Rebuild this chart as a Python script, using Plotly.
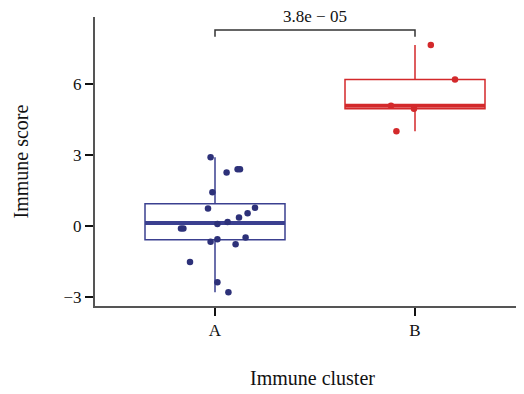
import numpy as np
import plotly.graph_objects as go

# ---- data ----
categories = ["A", "B"]
cluster_a = [2.90, 2.26, 2.40, 2.40, 1.42, 0.74, 0.77, 0.53, 0.36, 0.16, 0.08,
             -0.11, -0.11, -0.67, -0.56, -0.49, -0.78, -1.53, -2.39, -2.81]
jitter_a = [-0.022, 0.058, 0.113, 0.125, -0.013, -0.035, 0.200, 0.163, 0.120, 0.063, 0.012,
            -0.170, -0.158, -0.022, 0.012, 0.153, 0.103, -0.125, 0.012, 0.067]
cluster_b = [7.65, 6.20, 5.08, 4.96, 4.01]
jitter_b = [0.079, 0.200, -0.120, -0.005, -0.093]
p_label = "3.8e − 05"
bracket_top = 8.29
bracket_bottom = 8.0
y_ticks = [-3, 0, 3, 6]

col_a = "#2d3179"
col_a_box = "#3b4090"
col_b = "#d3292b"
box_w = 0.7
FONT = "Liberation Serif"

fig = go.Figure()
groups = [(0, cluster_a, jitter_a, col_a, col_a_box), (1, cluster_b, jitter_b, col_b, col_b)]
for xi, vals, jit, pc, bc in groups:
    arr = np.array(vals)
    q1, med, q3 = np.percentile(arr, [25, 50, 75])
    iqr = q3 - q1
    lo = arr[arr >= q1 - 1.5 * iqr].min()
    hi = arr[arr <= q3 + 1.5 * iqr].max()
    fig.add_trace(go.Box(
        x=[xi], q1=[q1], median=[med], q3=[q3], lowerfence=[lo], upperfence=[hi],
        width=box_w, boxpoints=False,
        line=dict(color=bc, width=1.5), fillcolor="rgba(255,255,255,0)",
        whiskerwidth=0, showlegend=False, hoverinfo="skip"))
    fig.add_trace(go.Scatter(
        x=[xi - box_w / 2, xi + box_w / 2], y=[med, med], mode="lines",
        line=dict(color=bc, width=4), showlegend=False, hoverinfo="skip"))
    fig.add_trace(go.Scatter(
        x=[xi + j for j in jit], y=vals, mode="markers",
        marker=dict(color=pc, size=6.5), showlegend=False))

# significance bracket
fig.add_trace(go.Scatter(
    x=[0, 0, 1, 1], y=[bracket_bottom, bracket_top, bracket_top, bracket_bottom],
    mode="lines", line=dict(color="#333333", width=1.5), showlegend=False,
    hoverinfo="skip", cliponaxis=False))
fig.add_annotation(x=0.5, y=bracket_top, text=p_label, showarrow=False,
                   yanchor="middle", yshift=14, borderpad=0,
                   font=dict(family=FONT, size=17, color="#111"))

fig.add_annotation(x=-0.1725, y=0.5, xref="paper", yref="paper", text="Immune score",
                   textangle=-90, showarrow=False, xanchor="center", yanchor="middle",
                   font=dict(family=FONT, size=20, color="#111"))
fig.add_annotation(x=0.508, y=-0.249, xref="paper", yref="paper", text="Immune cluster",
                   showarrow=False, xanchor="center", yanchor="middle",
                   font=dict(family=FONT, size=20, color="#111"))

fig.update_xaxes(type="linear", range=[-0.6, 1.545], tickvals=[0, 1], ticktext=categories,
                 showgrid=False, zeroline=False, showline=True, linecolor="#555555", linewidth=2,
                 ticks="outside", ticklen=8, tickwidth=2, tickcolor="#111",
                 tickfont=dict(family=FONT, size=17, color="#111"))
fig.update_yaxes(range=[-3.39, 8.84], tickvals=y_ticks, ticktext=["−3", "0", "3", "6"],
                 showgrid=False, zeroline=False, showline=True, linecolor="#555555", linewidth=2,
                 ticks="outside", ticklen=8, tickwidth=2, tickcolor="#111",
                 tickfont=dict(family=FONT, size=17, color="#111"))
fig.update_layout(width=516, height=386, margin=dict(l=87, r=0, t=9, b=88),
                  plot_bgcolor="white", paper_bgcolor="white", showlegend=False)
fig.write_html("out.html")
